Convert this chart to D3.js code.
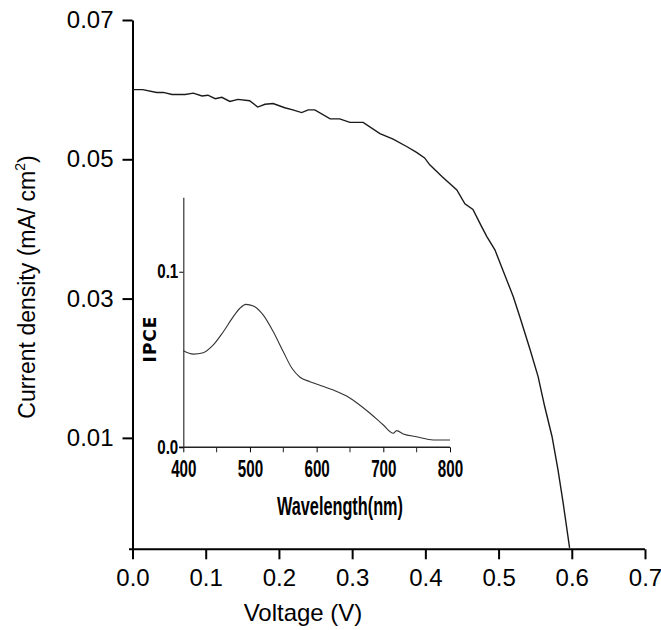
<!DOCTYPE html>
<html>
<head>
<meta charset="utf-8">
<script src="https://cdn.jsdelivr.net/npm/d3@7"></script>
<style>
	body { margin: 0; background: #fff; }
	svg { display: block; }
</style>
</head>
<body>
<div id="draw"></div>
<script>
// J-V curve (main plot)
var voltage = [0.000, 0.014, 0.033, 0.042, 0.054, 0.072, 0.083, 0.095, 0.103, 0.113, 0.122, 0.133, 0.144, 0.160, 0.171, 0.181, 0.192, 0.208, 0.219, 0.231, 0.240, 0.249, 0.270, 0.283, 0.297, 0.315, 0.338, 0.356, 0.375, 0.388, 0.399, 0.406, 0.423, 0.443, 0.454, 0.465, 0.477, 0.484, 0.495, 0.520, 0.529, 0.543, 0.554, 0.563, 0.573, 0.581, 0.588, 0.597];
var current = [0.0600, 0.0600, 0.0596, 0.0596, 0.0593, 0.0593, 0.0595, 0.0591, 0.0592, 0.0587, 0.0589, 0.0583, 0.0586, 0.0584, 0.0575, 0.0579, 0.0580, 0.0574, 0.0571, 0.0567, 0.0571, 0.0571, 0.0558, 0.0558, 0.0553, 0.0553, 0.0537, 0.0529, 0.0518, 0.0510, 0.0502, 0.0492, 0.0475, 0.0456, 0.0436, 0.0428, 0.0403, 0.0389, 0.0370, 0.0303, 0.0274, 0.0227, 0.0188, 0.0145, 0.0102, 0.0055, 0.0008, -0.0058];
var voltTicks = [0.0, 0.1, 0.2, 0.3, 0.4, 0.5, 0.6, 0.7];
var currentTicks = [0.01, 0.03, 0.05, 0.07];

// IPCE spectrum (inset)
var wavelength = [400, 415, 430, 445, 460, 475, 485, 494, 505, 520, 535, 550, 563, 575, 590, 608, 625, 645, 660, 680, 700, 715, 720, 730, 750, 775, 800];
var ipce = [0.0550, 0.0531, 0.0539, 0.0583, 0.0658, 0.0744, 0.0792, 0.0814, 0.0805, 0.0753, 0.0658, 0.0544, 0.0450, 0.0399, 0.0374, 0.0349, 0.0326, 0.0292, 0.0254, 0.0194, 0.0127, 0.0080, 0.0095, 0.0076, 0.0060, 0.0042, 0.0042];
var waveTicks = [400, 500, 600, 700, 800];
var waveMinor = [450, 550, 650, 750];
var ipceTicks = [0.0, 0.1];

var width = 661,
	height = 630;

var svg = d3
	.select('#draw')
	.append('svg')
	.attr('width', width)
	.attr('height', height);

// main scales
var x = d3.scaleLinear().domain([0, 0.7]).range([132.5, 645]);
var y = d3.scaleLinear().domain([-0.006, 0.07]).range([549.3, 20]);

var mainFont = 'Liberation Sans, Arial, sans-serif';

// X axis
var xAxis = svg
	.append('g')
	.attr('transform', 'translate(0,' + y.range()[0] + ')')
	.call(
		d3
			.axisBottom(x)
			.tickValues(voltTicks)
			.tickFormat(d3.format('.1f'))
			.tickSize(10)
			.tickSizeOuter(0)
	);
xAxis.select('.domain').attr('stroke-width', 2).attr('d', 'M129,0H' + x.range()[1]);
xAxis.selectAll('.tick line').attr('stroke-width', 2);
xAxis
	.selectAll('.tick text')
	.attr('y', 20)
	.attr('dy', '0.71em')
	.style('font-family', mainFont)
	.style('font-size', '24px')
	.attr('fill', '#000');

// Y axis
var yAxis = svg
	.append('g')
	.attr('transform', 'translate(' + x.range()[0] + ',0)')
	.call(
		d3
			.axisLeft(y)
			.tickValues(currentTicks)
			.tickFormat(d3.format('.2f'))
			.tickSize(10)
			.tickSizeOuter(0)
	);
yAxis.select('.domain').attr('stroke-width', 2);
yAxis.selectAll('.tick line').attr('stroke-width', 2);
yAxis
	.selectAll('.tick text')
	.attr('x', -19)
	.style('font-family', mainFont)
	.style('font-size', '24px')
	.attr('fill', '#000');

// axis titles
svg
	.append('text')
	.attr('x', 303)
	.attr('y', 621)
	.attr('text-anchor', 'middle')
	.style('font-family', mainFont)
	.style('font-size', '24px')
	.text('Voltage (V)');

var yTitle = svg
	.append('text')
	.attr('transform', 'translate(35,287) rotate(-90)')
	.attr('text-anchor', 'middle')
	.style('font-family', mainFont)
	.style('font-size', '23px');
yTitle.append('tspan').text('Current density (mA/ cm');
yTitle.append('tspan').attr('dy', -10).style('font-size', '14px').text('2');
yTitle.append('tspan').attr('dy', 10).text(')');

// J-V line
var jv = voltage.map(function (v, i) {
	return [v, current[i]];
});
svg
	.append('path')
	.datum(jv)
	.attr('fill', 'none')
	.attr('stroke', '#1a1a1a')
	.attr('stroke-width', 1.4)
	.attr(
		'd',
		d3
			.line()
			.x(function (d) {
				return x(d[0]);
			})
			.y(function (d) {
				return y(d[1]);
			})
	);

// NOTE inset
var ix = d3.scaleLinear().domain([400, 800]).range([183.3, 450]);
var iy = d3.scaleLinear().domain([0, 0.1424]).range([447.3, 197.3]);
var insetFont = 'Liberation Sans, Arial, sans-serif';

var ixAxis = svg
	.append('g')
	.attr('transform', 'translate(0,' + iy.range()[0] + ')')
	.call(
		d3
			.axisBottom(ix)
			.tickValues(waveTicks)
			.tickSize(5)
			.tickSizeOuter(0)
	);
ixAxis.select('.domain').attr('stroke', '#222').attr('stroke-width', 1.6).attr('d', 'M179,0H' + ix.range()[1]);
ixAxis
	.selectAll('.tick text')
	.attr('y', 13)
	.attr('dy', '0.71em')
	.attr('transform', 'scale(0.66,1)')
	.style('font-family', insetFont)
	.style('font-weight', 'bold')
	.style('font-size', '23px')
	.attr('fill', '#000');

// minor ticks
ixAxis
	.selectAll('.minor')
	.data(waveMinor)
	.enter()
	.append('line')
	.attr('class', 'minor')
	.attr('x1', function (d) {
		return ix(d);
	})
	.attr('x2', function (d) {
		return ix(d);
	})
	.attr('y1', 0)
	.attr('y2', 5)
	.attr('stroke', '#222');

var iyAxis = svg
	.append('g')
	.attr('transform', 'translate(' + ix.range()[0] + ',0)')
	.call(
		d3
			.axisLeft(iy)
			.tickValues(ipceTicks)
			.tickFormat(d3.format('.1f'))
			.tickSize(4)
			.tickSizeOuter(0)
	);
iyAxis.select('.domain').attr('stroke', '#333').attr('stroke-width', 1.2);
iyAxis
	.selectAll('.tick text')
	.attr('x', -7)
	.attr('dy', '0.28em')
	.attr('transform', 'scale(0.72,1)')
	.style('font-family', insetFont)
	.style('font-weight', 'bold')
	.style('font-size', '21px')
	.attr('fill', '#000');

svg
	.append('text')
	.attr('x', 340)
	.attr('y', 515)
	.attr('text-anchor', 'middle')
	.attr('textLength', 126)
	.attr('lengthAdjust', 'spacingAndGlyphs')
	.style('font-family', insetFont)
	.style('font-weight', 'bold')
	.style('font-size', '25px')
	.text('Wavelength(nm)');

svg
	.append('text')
	.attr('transform', 'translate(156,339) rotate(-90)')
	.attr('text-anchor', 'middle')
	.style('font-family', 'DejaVu Sans, sans-serif')
	.style('font-weight', 'bold')
	.style('font-size', '17px')
	.style('letter-spacing', '1px')
	.text('IPCE');

var spec = wavelength.map(function (w, i) {
	return [w, ipce[i]];
});
svg
	.append('path')
	.datum(spec)
	.attr('fill', 'none')
	.attr('stroke', '#333')
	.attr('stroke-width', 1.1)
	.attr(
		'd',
		d3
			.line()
			.curve(d3.curveMonotoneX)
			.x(function (d) {
				return ix(d[0]);
			})
			.y(function (d) {
				return iy(d[1]);
			})
	);
</script>
</body>
</html>
